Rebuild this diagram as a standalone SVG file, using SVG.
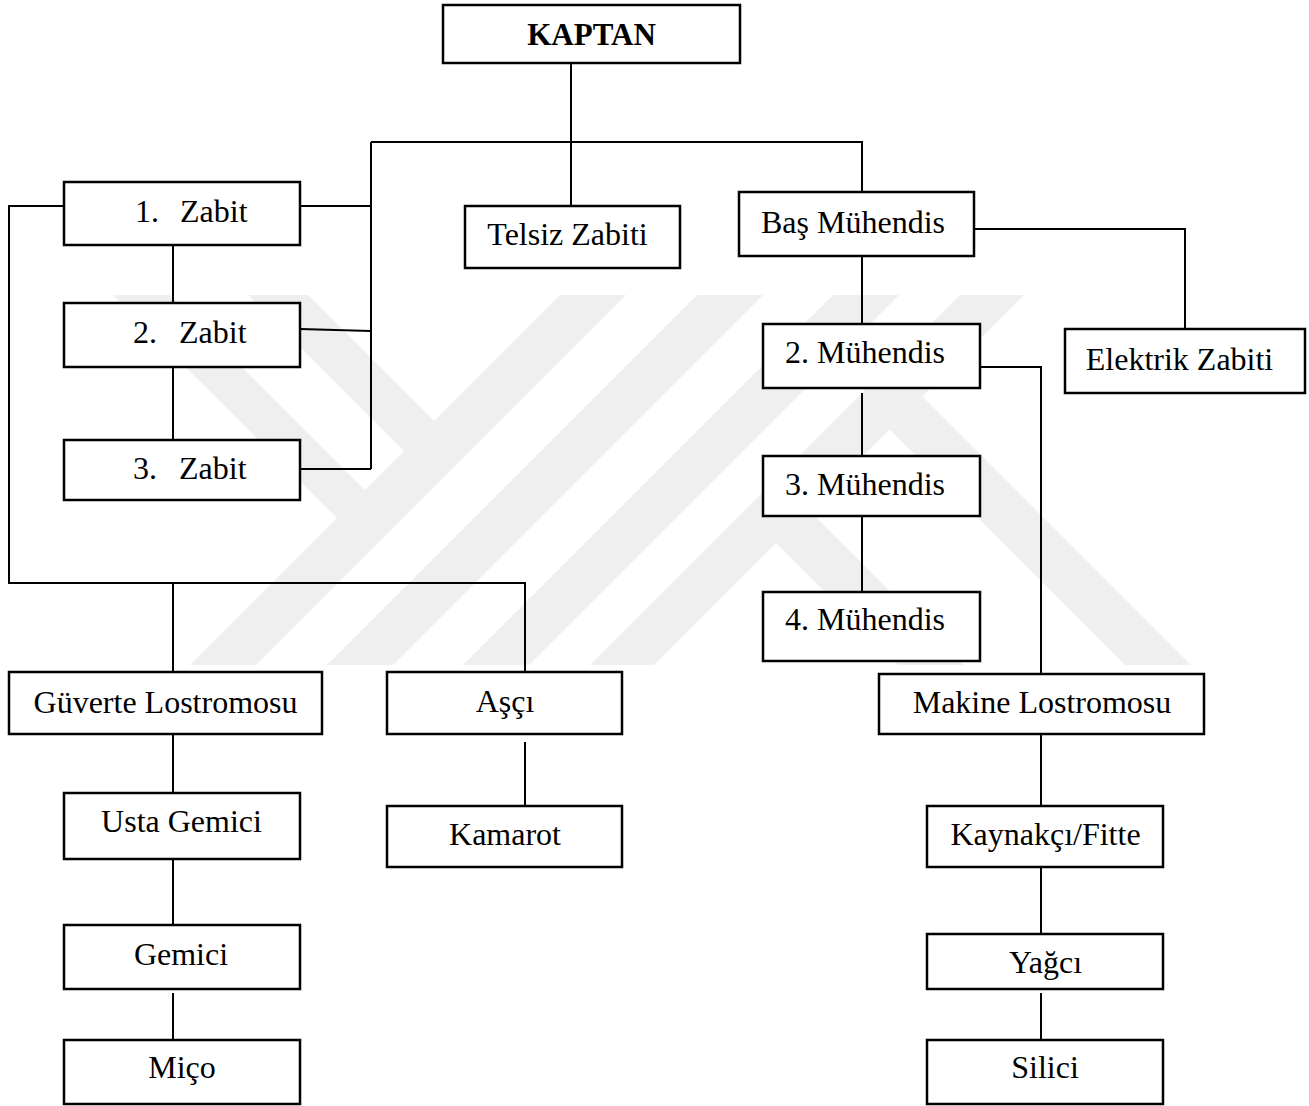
<svg xmlns="http://www.w3.org/2000/svg" width="1309" height="1106" viewBox="0 0 1309 1106">
<style>
.box{fill:#fff;stroke:#000;stroke-width:2.5}
.lbl{font-family:"Liberation Serif","Times New Roman",serif;font-size:32px;fill:#000;text-anchor:middle}
.st{text-anchor:start}
.bold{font-weight:bold;font-size:31px}
.wm{fill:#efefef}
#connectors{fill:none;stroke:#000;stroke-width:2}
</style>
<defs>
<clipPath id="wmclip"><rect x="0" y="295" width="1309" height="370"/></clipPath>
</defs>
<rect x="0" y="0" width="1309" height="1106" fill="#fff"/>
<g id="watermark" clip-path="url(#wmclip)">
<polygon class="wm" points="190,665 256,665 626,295 560,295"/>
<polygon class="wm" points="327,665 393,665 763,295 697,295"/>
<polygon class="wm" points="463,665 529,665 899,295 833,295"/>
<polygon class="wm" points="590,665 654,665 1024,295 960,295"/>
<polygon class="wm" points="248,295 308,295 434,421 404,451"/>
<polygon class="wm" points="113,295 170,295 365,490 337,518"/>
<polygon class="wm" points="776,543 809,510 964,665 898,665"/>
<polygon class="wm" points="889.5,429.5 922.5,396.5 1191,665 1125,665"/>
</g>
<g id="connectors">
<path d="M571,63 V206"/>
<path d="M371,142 H862 V192"/>
<path d="M371,142 V469"/>
<path d="M300,206 H371"/>
<path d="M300,329 L371,331"/>
<path d="M300,469 H371"/>
<path d="M173,245 V303"/>
<path d="M173,367 V440"/>
<path d="M64,206 H9 V583 H525 V672"/>
<path d="M173,583 V672"/>
<path d="M173,734 V793"/>
<path d="M173,859 V925"/>
<path d="M173,993 V1040"/>
<path d="M525,742 V806"/>
<path d="M974,229 H1185 V337"/>
<path d="M862,256 V324"/>
<path d="M980,367 H1041 V674"/>
<path d="M862,393 V456"/>
<path d="M862,516 V592"/>
<path d="M1041,734 V806"/>
<path d="M1041,867 V934"/>
<path d="M1041,993 V1040"/>
</g>
<g id="kaptan"><rect class="box" x="443" y="5" width="297" height="58"/><text class="lbl bold" x="591.5" y="45">KAPTAN</text></g>
<g id="zabit1"><rect class="box" x="64" y="182" width="236" height="63"/><text class="lbl st" y="222"><tspan x="135">1.</tspan><tspan x="180">Zabit</tspan></text></g>
<g id="zabit2"><rect class="box" x="64" y="303" width="236" height="64"/><text class="lbl st" y="343"><tspan x="133">2.</tspan><tspan x="179">Zabit</tspan></text></g>
<g id="zabit3"><rect class="box" x="64" y="440" width="236" height="60"/><text class="lbl st" y="479"><tspan x="133">3.</tspan><tspan x="179">Zabit</tspan></text></g>
<g id="telsiz"><rect class="box" x="465" y="206" width="215" height="62"/><text class="lbl" x="567.5" y="245">Telsiz Zabiti</text></g>
<g id="basmuhendis"><rect class="box" x="739" y="192" width="235" height="64"/><text class="lbl" x="853" y="233">Baş Mühendis</text></g>
<g id="elektrik"><rect class="box" x="1065" y="329" width="240" height="64"/><text class="lbl" x="1179.5" y="370">Elektrik Zabiti</text></g>
<g id="muhendis2"><rect class="box" x="763" y="324" width="217" height="64"/><text class="lbl" x="865" y="363">2. Mühendis</text></g>
<g id="muhendis3"><rect class="box" x="763" y="456" width="217" height="60"/><text class="lbl" x="865" y="495">3. Mühendis</text></g>
<g id="muhendis4"><rect class="box" x="763" y="592" width="217" height="69"/><text class="lbl" x="865" y="630">4. Mühendis</text></g>
<g id="makine"><rect class="box" x="879" y="674" width="325" height="60"/><text class="lbl" x="1042" y="713">Makine Lostromosu</text></g>
<g id="kaynakci"><rect class="box" x="927" y="806" width="236" height="61"/><text class="lbl" x="1045.5" y="845">Kaynakçı/Fitte</text></g>
<g id="yagci"><rect class="box" x="927" y="934" width="236" height="55"/><text class="lbl" x="1045.5" y="973">Yağcı</text></g>
<g id="silici"><rect class="box" x="927" y="1040" width="236" height="64"/><text class="lbl" x="1045" y="1078">Silici</text></g>
<g id="guverte"><rect class="box" x="9" y="672" width="313" height="62"/><text class="lbl" x="165.5" y="713">Güverte Lostromosu</text></g>
<g id="asci"><rect class="box" x="387" y="672" width="235" height="62"/><text class="lbl" x="505" y="712">Aşçı</text></g>
<g id="usta"><rect class="box" x="64" y="793" width="236" height="66"/><text class="lbl" x="181.5" y="832">Usta Gemici</text></g>
<g id="kamarot"><rect class="box" x="387" y="806" width="235" height="61"/><text class="lbl" x="505" y="845">Kamarot</text></g>
<g id="gemici"><rect class="box" x="64" y="925" width="236" height="64"/><text class="lbl" x="181" y="965">Gemici</text></g>
<g id="mico"><rect class="box" x="64" y="1040" width="236" height="64"/><text class="lbl" x="182" y="1078">Miço</text></g>
</svg>
